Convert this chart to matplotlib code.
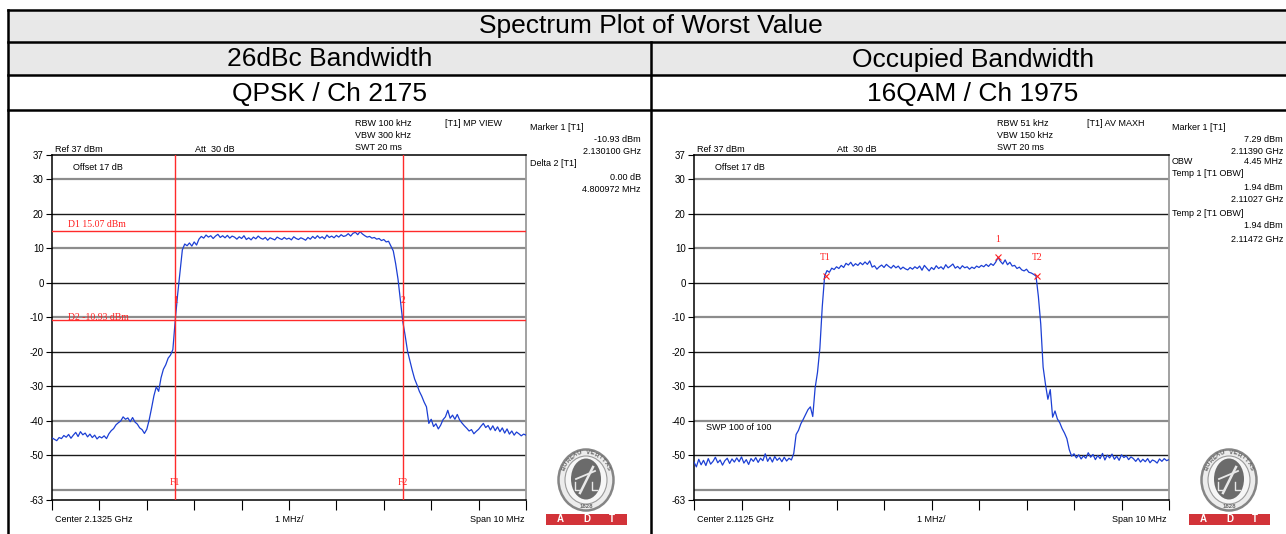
import numpy as np
import matplotlib.pyplot as plt
from matplotlib.patches import Ellipse, Rectangle

plt.rcParams['font.family'] = ['Liberation Sans', 'DejaVu Sans']

# ---- trace data (dBm), one sweep point every 0.05 MHz over the 10 MHz span ----
qpsk_level = [
    -45.0, -45.4, -45.8, -44.9, -45.2, -44.3, -44.8, -44.0, -45.1, -44.2,
    -43.4, -44.6, -43.2, -44.1, -43.6, -44.7, -43.9, -44.9, -44.2, -45.3,
    -44.6, -45.0, -44.4, -45.2, -43.8, -42.9, -42.3, -41.2, -40.6, -40.1,
    -38.9, -39.6, -39.2, -40.3, -39.1, -40.4, -41.0, -42.1, -42.6, -43.7,
    -42.5, -39.8, -36.4, -32.8, -30.2, -31.5, -27.6, -25.1, -23.8, -21.9,
    -21.0, -19.4, -10.9, -3.5, 3.0, 9.5, 11.2, 10.7, 11.5, 10.6,
    11.8, 10.9, 12.6, 13.4, 12.9, 13.8, 13.2, 13.6, 12.8, 13.5,
    14.0, 13.1, 13.6, 13.0, 13.7, 12.9, 13.5, 13.2, 12.6, 13.3,
    12.8, 13.6, 12.5, 13.0, 12.4, 13.2, 12.7, 13.5, 12.9, 12.6,
    13.1, 12.3, 13.0, 12.7, 12.4, 13.2, 12.8, 12.5, 13.1, 12.6,
    12.9, 12.4, 13.3, 12.8, 12.5, 13.0, 12.7, 12.3, 13.1, 12.6,
    13.4, 12.8, 13.6, 12.9, 13.3, 12.7, 13.8, 13.1, 13.5, 13.0,
    13.7, 13.2, 13.9, 13.4, 13.6, 14.2, 13.5, 14.3, 14.6, 13.9,
    14.8, 14.1, 13.6, 13.2, 13.4, 12.9, 13.1, 12.6, 12.8, 12.2,
    12.5, 11.8, 12.0, 10.6, 9.2, 5.5, 1.0, -5.0, -11.2, -15.3,
    -19.8, -22.6, -25.4, -27.9, -29.6, -31.5, -32.9, -34.6, -36.0, -40.8,
    -39.6, -41.7, -40.9, -42.4, -41.3, -39.7, -38.9, -37.0, -39.3, -38.4,
    -39.6, -38.2, -39.8, -40.7, -41.5, -42.2, -43.0, -42.6, -43.8, -43.1,
    -42.5, -41.6, -40.8, -42.0, -41.4, -42.7, -41.5, -42.9, -41.8, -43.2,
    -42.1, -43.6, -42.4, -43.9, -43.0, -44.2, -43.3, -43.8, -44.4, -43.9,
    -44.2,
]

qam_level = [
    -52.0, -53.4, -51.2, -52.8, -51.5, -53.0, -51.0, -52.6, -51.8, -50.6,
    -52.2, -51.4, -52.9, -51.6, -50.9, -52.4, -51.1, -52.0, -50.8, -51.9,
    -50.5, -52.3, -51.3, -52.7, -51.0, -51.8, -50.7, -52.1, -50.9, -51.6,
    -49.6, -51.8, -50.6, -52.0, -50.4, -51.5, -50.8, -51.9, -50.6, -51.7,
    -50.9, -51.4, -49.5, -44.0, -42.8, -40.9, -39.6, -38.2, -36.8, -36.0,
    -38.8, -30.5, -26.0, -19.0, -7.0, 1.9, 3.5, 3.0, 4.2, 3.8,
    4.6, 4.1, 5.0, 4.4, 5.6, 5.1, 5.9, 4.8, 5.5, 5.0,
    5.8, 5.2, 6.0, 5.3, 6.3, 4.5, 4.9, 3.9, 4.6, 5.1,
    4.4, 5.3, 4.7, 4.2, 5.0, 4.3, 4.8, 3.9, 4.5, 4.0,
    3.7, 4.4, 3.9, 4.6, 4.1, 4.8, 3.6, 5.0, 4.2, 3.4,
    4.4, 3.8, 4.9, 4.1, 4.6, 3.9, 5.2, 4.3, 4.8, 5.4,
    4.2, 4.7, 4.0, 4.9, 4.3, 4.6, 3.9, 4.5, 4.1, 4.8,
    4.4, 5.0, 4.6, 5.3, 4.7, 5.5, 5.0, 5.9, 7.29, 6.2,
    5.4, 6.6, 5.2, 5.9, 4.8, 5.0, 4.1, 4.5, 3.7, 3.4,
    3.9, 3.0, 2.8, 2.4, 1.94, -4.0, -12.0, -24.5, -29.5, -33.8,
    -31.0, -39.0, -37.2, -39.5, -40.6, -42.3, -43.6, -45.2, -48.4, -50.3,
    -49.6, -50.8, -49.9, -51.1, -50.2, -50.9, -49.3, -50.6, -49.8, -51.3,
    -50.1, -51.0, -49.5, -51.4, -50.0, -50.8, -49.7, -51.2, -50.3, -51.5,
    -49.9, -50.7, -50.2, -51.3, -50.5, -51.0, -51.8, -50.9, -52.0, -51.2,
    -51.9, -51.0, -52.2, -51.4, -51.7, -52.3, -51.1, -51.8, -51.0, -51.6,
    -51.3,
]

# ---- instrument settings / marker readouts ----
qpsk_center_ghz = 2.1325
qam_center_ghz = 2.1125
span_mhz = 10

qpsk_marker1_ghz = 2.130100
qpsk_marker1_dbm = -10.93
qpsk_delta2_mhz = 4.800972
qpsk_d1_dbm = 15.07
qpsk_d2_dbm = -10.93

qam_marker1_ghz = 2.11390
qam_marker1_dbm = 7.29
qam_temp1_ghz = 2.11027
qam_temp2_ghz = 2.11472
qam_temp_dbm = 1.94
qam_obw_mhz = 4.45

y_ticks = [37, 30, 20, 10, 0, -10, -20, -30, -40, -50, -63]
grid_levels = [30, 20, 10, 0, -10, -20, -30, -40, -50, -60]
grid_dark = [False, True, False, True, False, True, True, False, True, False]

W, H = 1286, 534
fig = plt.figure(figsize=(W / 100, H / 100), dpi=100)

# background axes in pixel units for the table, labels and logos
bg = fig.add_axes([0, 0, 1, 1])
bg.set_xlim(0, W)
bg.set_ylim(H, 0)
bg.axis('off')

bg.add_patch(Rectangle((8, 10), W, 65, facecolor='#e8e8e8', edgecolor='none'))
for yy in [10, 42, 75, 110]:
    bg.plot([8, W], [yy, yy], color='black', lw=1.8)
bg.plot([8, 8], [10, H], color='black', lw=1.8)
bg.plot([651, 651], [42, H], color='black', lw=1.8)

bg.text(651, 26.5, 'Spectrum Plot of Worst Value', ha='center', va='center', fontsize=19)
bg.text(330, 59.5, '26dBc Bandwidth', ha='center', va='center', fontsize=19)
bg.text(973, 59.5, 'Occupied Bandwidth', ha='center', va='center', fontsize=19)
bg.text(330, 94, 'QPSK / Ch 2175', ha='center', va='center', fontsize=19)
bg.text(973, 94, '16QAM / Ch 1975', ha='center', va='center', fontsize=19)


def px_axes(x0, x1, y0, y1):
    return fig.add_axes([x0 / W, 1 - y1 / H, (x1 - x0) / W, (y1 - y0) / H])


def draw_spectrum(ax, level):
    freq = np.linspace(-span_mhz / 2, span_mhz / 2, len(level))
    for lv, dark in zip(grid_levels, grid_dark):
        if dark:
            ax.axhline(lv, color='#1a1a1a', lw=1.0, zorder=1)
        else:
            ax.axhline(lv, color='#8c8c8c', lw=1.6, zorder=1)
    ax.plot(freq, level, color='#1c3fd4', lw=0.9, zorder=3)
    ax.set_xlim(-span_mhz / 2, span_mhz / 2)
    ax.set_ylim(-63, 37)
    ax.set_yticks(y_ticks)
    ax.set_yticklabels([str(t) for t in y_ticks])
    ax.set_xticks(np.arange(-5, 6, 1))
    ax.tick_params(axis='y', direction='out', length=4, width=0.8, pad=2, labelsize=7)
    ax.tick_params(axis='x', direction='out', length=7, width=0.8, labelbottom=False)
    for s in ['top', 'left', 'bottom']:
        ax.spines[s].set_color('black')
        ax.spines[s].set_linewidth(1.1)
    ax.spines['right'].set_color('#9a9a9a')
    ax.spines['right'].set_linewidth(1.3)


def header(x0, rbw, vbw, trace_mode, readout):
    fs = 6.5
    bg.text(x0 + 3, 149, 'Ref 37 dBm', va='center', fontsize=fs)
    bg.text(x0 + 143, 149, 'Att  30 dB', va='center', fontsize=fs)
    bg.text(x0 + 303, 123, rbw, va='center', fontsize=fs)
    bg.text(x0 + 303, 135, vbw, va='center', fontsize=fs)
    bg.text(x0 + 303, 148, 'SWT 20 ms', va='center', fontsize=fs)
    bg.text(x0 + 393, 123, trace_mode, va='center', fontsize=fs)
    for txt, yy, right in readout:
        if right:
            bg.text(x0 + 589, yy, txt, ha='right', va='center', fontsize=fs)
        else:
            bg.text(x0 + 478, yy, txt, va='center', fontsize=fs)
    bg.text(x0 + 3, 519, 'Center %s GHz' % center_text[x0], va='center', fontsize=fs)
    bg.text(x0 + 237, 519, '1 MHz/', ha='center', va='center', fontsize=fs)
    bg.text(x0 + 472, 519, 'Span %d MHz' % span_mhz, ha='right', va='center', fontsize=fs)


def logo(cx, cy):
    bg.add_patch(Ellipse((cx, cy), 55, 61, facecolor='#ececec', edgecolor='#858585', lw=1.8))
    bg.add_patch(Ellipse((cx, cy), 42, 48, facecolor='#f6f6f6', edgecolor='#9a9a9a', lw=0.8))
    bg.add_patch(Ellipse((cx, cy - 1), 30, 41, facecolor='#6b6b6b', edgecolor='none'))
    bg.plot([cx - 6, cx + 2, cx + 7], [cy + 13, cy - 3, cy - 13], color='#e8e8e8', lw=1.8)
    bg.plot([cx - 10, cx + 9], [cy - 1, cy - 9], color='#e8e8e8', lw=1.3)
    bg.plot([cx - 11, cx - 11, cx - 5], [cy + 2, cy + 10, cy + 10], color='#e8e8e8', lw=1.0)
    bg.plot([cx + 6, cx + 6, cx + 11], [cy + 2, cy + 10, cy + 10], color='#e8e8e8', lw=1.0)
    word = 'BUREAU VERITAS'
    for ch, a in zip(word, np.linspace(155, 25, len(word))):
        r = np.radians(a)
        bg.text(cx + 24.5 * np.cos(r), cy - 27.5 * np.sin(r), ch, rotation=a - 90,
                ha='center', va='center', fontsize=4.3, color='#666666', fontweight='bold')
    bg.text(cx, cy + 26, '1828', ha='center', va='center', fontsize=4.3,
            color='#666666', fontweight='bold')
    bg.add_patch(Rectangle((cx - 40, 514), 81, 11, facecolor='#d23339', edgecolor='none'))
    for dx, ch in zip([-26, 1, 26], 'ADT'):
        bg.text(cx + dx, 519.5, ch, ha='center', va='center', fontsize=7,
                color='white', fontweight='bold')


center_text = {52: '2.1325', 694: '2.1125'}
serif = ['Liberation Serif', 'DejaVu Serif']

# ---- left: 26 dBc bandwidth, QPSK ----
axL = px_axes(52, 526, 155, 500)
draw_spectrum(axL, qpsk_level)
f1 = (qpsk_marker1_ghz - qpsk_center_ghz) * 1000
f2 = f1 + qpsk_delta2_mhz
for f in [f1, f2]:
    axL.axvline(f, color='#ff2a2a', lw=1.0, zorder=4)
for d in [qpsk_d1_dbm, qpsk_d2_dbm]:
    axL.axhline(d, color='#ff2a2a', lw=1.0, zorder=4)
axL.text(-4.66, qpsk_d1_dbm + 0.4, 'D1 %.2f dBm' % qpsk_d1_dbm, color='#ff2020',
         fontsize=7, family=serif, va='bottom', zorder=5)
axL.text(-4.66, qpsk_d2_dbm + 0.9, 'D2 %.2f dBm' % qpsk_d2_dbm, color='#ff2020',
         fontsize=7, family=serif, va='center', zorder=5)
axL.text(f1, -5.3, '1', color='#ff2020', fontsize=7, family=serif, ha='center', va='center', zorder=5)
axL.text(f2, -5.3, '2', color='#ff2020', fontsize=7, family=serif, ha='center', va='center', zorder=5)
axL.text(f1, -57.8, 'F1', color='#ff2020', fontsize=7, family=serif, ha='center', va='center', zorder=5)
axL.text(f2, -57.8, 'F2', color='#ff2020', fontsize=7, family=serif, ha='center', va='center', zorder=5)
axL.text(-4.56, 33.5, 'Offset 17 dB', fontsize=6.5, va='center')
header(52, 'RBW 100 kHz', 'VBW 300 kHz', '[T1] MP VIEW', [
    ('Marker 1 [T1]', 127, False),
    ('%.2f dBm' % qpsk_marker1_dbm, 140, True),
    ('%.6f GHz' % qpsk_marker1_ghz, 152, True),
    ('Delta 2 [T1]', 164, False),
    ('0.00 dB', 177, True),
    ('%.6f MHz' % qpsk_delta2_mhz, 189, True),
])
logo(586, 480)

# ---- right: occupied bandwidth, 16QAM ----
axR = px_axes(694, 1169, 155, 500)
draw_spectrum(axR, qam_level)
t1 = (qam_temp1_ghz - qam_center_ghz) * 1000
t2 = (qam_temp2_ghz - qam_center_ghz) * 1000
m1 = (qam_marker1_ghz - qam_center_ghz) * 1000
axR.plot([t1, m1, t2], [qam_temp_dbm, qam_marker1_dbm, qam_temp_dbm], 'x',
         color='#ff2020', ms=4, mew=0.8, zorder=5)
axR.text(t1, 7.2, 'T1', color='#ff2020', fontsize=7, family=serif, ha='center', va='center')
axR.text(m1, 12.5, '1', color='#ff2020', fontsize=7, family=serif, ha='center', va='center')
axR.text(t2, 7.2, 'T2', color='#ff2020', fontsize=7, family=serif, ha='center', va='center')
axR.text(-4.56, 33.5, 'Offset 17 dB', fontsize=6.5, va='center')
axR.text(-4.75, -42.1, 'SWP 100 of 100', fontsize=6.5, va='center')
header(694, 'RBW 51 kHz', 'VBW 150 kHz', '[T1] AV MAXH', [
    ('Marker 1 [T1]', 128, False),
    ('%.2f dBm' % qam_marker1_dbm, 140, True),
    ('%.5f GHz' % qam_marker1_ghz, 151, True),
    ('OBW', 162, False),
    ('%.2f MHz' % qam_obw_mhz, 162, True),
    ('Temp 1 [T1 OBW]', 174, False),
    ('%.2f dBm' % qam_temp_dbm, 187, True),
    ('%.5f GHz' % qam_temp1_ghz, 199, True),
    ('Temp 2 [T1 OBW]', 213, False),
    ('%.2f dBm' % qam_temp_dbm, 226, True),
    ('%.5f GHz' % qam_temp2_ghz, 239, True),
])
logo(1229, 480)

fig.savefig('out.png', dpi=100)
